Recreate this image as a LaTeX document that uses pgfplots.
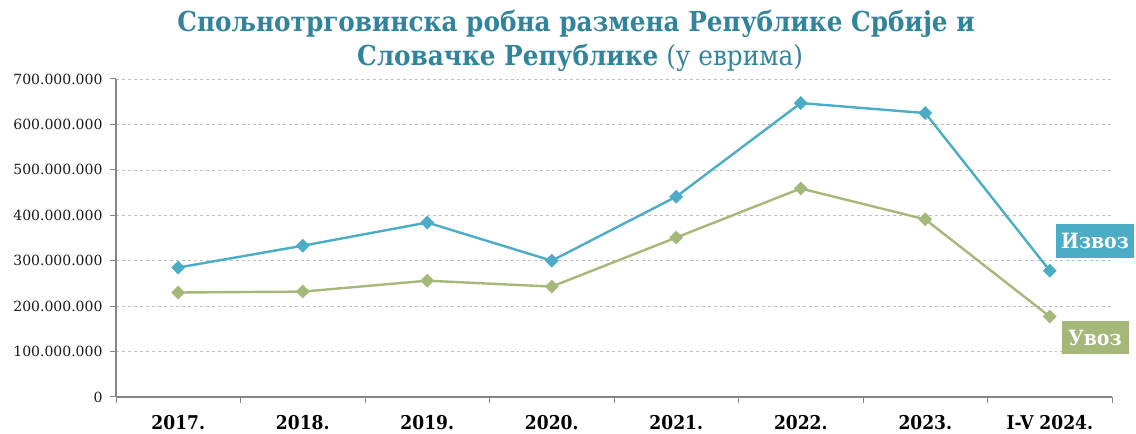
\documentclass[border=0pt]{standalone}
\usepackage{pgfplots}
\pgfplotsset{compat=1.18}
\usepackage{fontspec}
\setmainfont{DejaVu Serif}
\newfontfamily\condfont{DejaVu Serif Condensed}
\definecolor{izvoz}{RGB}{75,172,198}
\definecolor{uvoz}{RGB}{165,184,122}
\definecolor{titlec}{RGB}{49,132,155}
\definecolor{axc}{RGB}{134,134,134}
\begin{document}
\begin{tikzpicture}[x=1bp,y=1bp]
\useasboundingbox (0,0) rectangle (1136,434);
\begin{axis}[
  at={(116bp,37bp)}, anchor=south west,
  scale only axis, width=996bp, height=318bp,
  xmin=-0.5, xmax=7.5, ymin=0, ymax=700000000,
  axis x line*=bottom, axis y line*=left,
  axis line style={draw=axc, line width=1.2bp},
  xtick={0,...,7},
  xticklabels={2017.,2018.,2019.,2020.,2021.,2022.,2023.,I-V 2024.},
  minor xtick={-0.5,0.5,...,7.5},
  major x tick style={draw=none},
  minor x tick style={draw=axc, line width=1bp},
  tick align=outside,
  minor tick length=6bp, major tick length=6bp,
  ytick={0,100000000,...,700000000},
  major y tick style={draw=axc, line width=1bp},
  scaled y ticks=false,
  /pgf/number format/.cd, fixed, 1000 sep={.}, assume math mode=true,
  /pgfplots/.cd,
  yticklabel style={font=\fontsize{14bp}{16bp}\selectfont, text=black!90, xshift=-4bp},
  xticklabel style={font=\condfont\bfseries\fontsize{19bp}{22bp}\selectfont, text=black, yshift=-9bp},
  ymajorgrids, grid style={dashed, draw=black!25, line width=0.6bp},
  clip=false,
]
\addplot[izvoz, line width=2.4bp, mark=square*, mark size=4.6bp, mark options={rotate=45, fill=izvoz, draw=izvoz, line width=0.5bp}]
 coordinates {(0,285000000)(1,333000000)(2,384000000)(3,300000000)(4,441000000)(5,647000000)(6,625000000)(7,278000000)};
\addplot[uvoz, line width=2.4bp, mark=square*, mark size=4.6bp, mark options={rotate=45, fill=uvoz, draw=uvoz, line width=0.5bp}]
 coordinates {(0,230000000)(1,232000000)(2,256000000)(3,243000000)(4,351000000)(5,459000000)(6,391000000)(7,177000000)};
\end{axis}
\node[fill=izvoz, text=white, font=\condfont\bfseries\fontsize{21bp}{24bp}\selectfont, minimum width=78bp, minimum height=34bp, inner sep=2bp] at (1095,193) {Извоз};
\node[fill=uvoz, text=white, font=\condfont\bfseries\fontsize{21bp}{24bp}\selectfont, minimum width=67bp, minimum height=33bp, inner sep=2bp] at (1095,96) {Увоз};
\node[text=titlec, font=\condfont\bfseries\fontsize{27.5bp}{30bp}\selectfont, anchor=base] at (576,402) {Спољнотрговинска робна размена Републике Србије и};
\node[text=titlec, font=\condfont\fontsize{27.5bp}{30bp}\selectfont, anchor=base] at (580,368) {{\bfseries Словачке Републике} (у еврима)};
\end{tikzpicture}
\end{document}
